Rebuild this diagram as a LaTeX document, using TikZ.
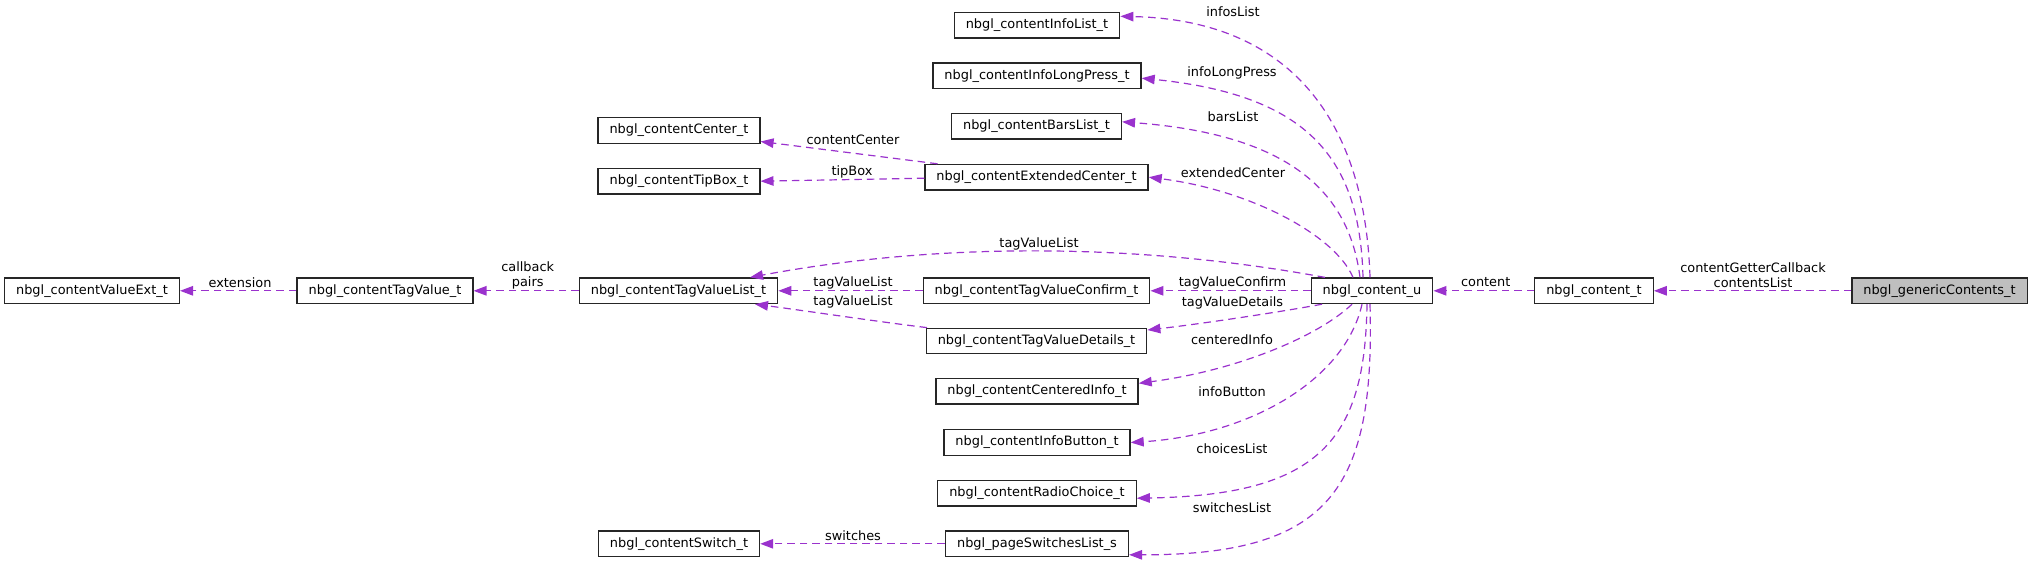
\documentclass[tikz,border=0pt]{standalone}
\usepackage{fontspec}
\setmainfont{DejaVu Sans}
\usepackage{tikz}
\usetikzlibrary{arrows.meta, positioning, calc}
\definecolor{LinkPurple}{HTML}{9A32CD}
\definecolor{BoxGray}{HTML}{BFBFBF}

\begin{document}
\begin{tikzpicture}[
        x=1pt, y=-1pt,
        font=\fontsize{12.9}{14.5}\selectfont,
        cls/.style={draw=black!85, line width=1.3pt, fill=white, minimum height=25.5pt, inner xsep=11.5pt, inner ysep=0pt},
        root/.style={cls, fill=BoxGray},
        link/.style={-{Triangle[length=13pt, width=9.5pt]}, LinkPurple, line width=1.2pt, dash pattern=on 7.5pt off 5pt},
        lbl/.style={align=center, inner sep=0pt},
      ]
        \useasboundingbox (0,0) rectangle (2032,563);
        % ---- member types (column of content_u) ----
        \node[cls] (cinfolist)  at (1037,25.3)   {nbgl\_contentInfoList\_t};
        \node[cls] (clongpress) at (1037,75.7)   {nbgl\_contentInfoLongPress\_t};
        \node[cls] (cbars)      at (1036.5,126.3) {nbgl\_contentBarsList\_t};
        \node[cls] (cextcenter) at (1036.5,177.2) {nbgl\_contentExtendedCenter\_t};
        \node[cls] (cconfirm)   at (1036.5,290.8) {nbgl\_contentTagValueConfirm\_t};
        \node[cls] (cdetails)   at (1036.5,341)   {nbgl\_contentTagValueDetails\_t};
        \node[cls] (ccentered)  at (1037,391.3)  {nbgl\_contentCenteredInfo\_t};
        \node[cls] (cinfobtn)   at (1037,442.5)  {nbgl\_contentInfoButton\_t};
        \node[cls] (cradio)     at (1037,493.2)  {nbgl\_contentRadioChoice\_t};
        \node[cls] (pswitches)  at (1037,543.8)  {nbgl\_pageSwitchesList\_s};
        % ---- second level ----
        \node[cls] (ccenter)    at (679,130.5)   {nbgl\_contentCenter\_t};
        \node[cls] (ctipbox)    at (679,181.2)   {nbgl\_contentTipBox\_t};
        \node[cls] (ctaglist)   at (678.5,290.8) {nbgl\_contentTagValueList\_t};
        \node[cls] (cswitch)    at (679,543.8)   {nbgl\_contentSwitch\_t};
        \node[cls] (ctagvalue)  at (385,290.8)   {nbgl\_contentTagValue\_t};
        \node[cls] (cvalueext)  at (92,290.8)    {nbgl\_contentValueExt\_t};
        % ---- main chain ----
        \node[cls] (cunion)     at (1372,290.8)  {nbgl\_content\_u};
        \node[cls] (ctype)      at (1594,290.8)  {nbgl\_content\_t};
        \node[root] (generic)   at (1939.5,290.8) {nbgl\_genericContents\_t};
        % ---- straight links ----
        \draw[link] (generic.west) -- (ctype.east);
        \draw[link] (ctype.west) -- (cunion.east);
        \draw[link] (cunion.west) -- (cconfirm.east);
        \draw[link] (cconfirm.west) -- (ctaglist.east);
        \draw[link] (ctaglist.west) -- (ctagvalue.east);
        \draw[link] (ctagvalue.west) -- (cvalueext.east);
        \draw[link] (pswitches.west) -- (cswitch.east);
        \draw[link] ([yshift=-1pt]cextcenter.west) -- ([yshift=0pt]ctipbox.east);
        \draw[link] ([xshift=-99pt]cextcenter.north) -- ([yshift=-11pt]ccenter.east);
        % ---- fan above content_u ----
        \draw[link] ([xshift=-2pt]cunion.north) .. controls (1365,120) and (1290,20) .. ([yshift=9pt]cinfolist.east);
        \draw[link] ([xshift=-9pt]cunion.north) .. controls (1360,160) and (1310,95) .. ([yshift=-2.5pt]clongpress.east);
        \draw[link] ([xshift=-12pt]cunion.north) .. controls (1350,200) and (1300,135) .. ([yshift=4.5pt]cbars.east);
        \draw[link] ([xshift=-19pt]cunion.north) .. controls (1335,235) and (1250,190) .. (cextcenter.east);
        \draw[link] ([xshift=-47pt]cunion.north) .. controls (1150,245) and (950,240) .. ([xshift=71.5pt]ctaglist.north);
        % ---- fan below content_u ----
        \draw[link] ([xshift=-50pt]cunion.south) .. controls (1280,312) and (1200,324) .. ([yshift=11pt]cdetails.east);
        \draw[link] ([xshift=-20pt]cunion.south) .. controls (1320,335) and (1240,370) .. ([yshift=8pt]ccentered.east);
        \draw[link] ([xshift=-10pt]cunion.south) .. controls (1345,380) and (1250,435) .. (cinfobtn.east);
        \draw[link] ([xshift=-5pt]cunion.south) .. controls (1365,440) and (1320,495) .. ([yshift=-5pt]cradio.east);
        \draw[link] ([xshift=-2pt]cunion.south) .. controls (1375,490) and (1330,555) .. ([yshift=-11pt]pswitches.east);
        \draw[link] ([xshift=-109.5pt]cdetails.north) .. controls (880,322) and (800,310) .. ([xshift=76.5pt]ctaglist.south);
        % ---- edge labels ----
        \node[lbl] (lInfos)    at (1233,11.7)  {infosList};
        \node[lbl] (lLong)     at (1232,72.7)  {infoLongPress};
        \node[lbl] (lBars)     at (1233,116.7) {barsList};
        \node[lbl] (lExt)      at (1233,172.7) {extendedCenter};
        \node[lbl] (lCenter)   at (853,140)    {contentCenter};
        \node[lbl] (lTip)      at (852,172.3)  {tipBox};
        \node[lbl] (lTagTop)   at (1039,243.5) {tagValueList};
        \node[lbl] (lTagMid)   at (853,282.7)  {tagValueList};
        \node[lbl] (lTagLow)   at (853,302.3)  {tagValueList};
        \node[lbl] (lConfirm)  at (1232.5,282.7) {tagValueConfirm};
        \node[lbl] (lDetails)  at (1232.5,302.5) {tagValueDetails};
        \node[lbl] (lCentered) at (1232,339.5) {centeredInfo};
        \node[lbl] (lBtn)      at (1232,391.7) {infoButton};
        \node[lbl] (lChoices)  at (1232,448.3) {choicesList};
        \node[lbl] (lSwList)   at (1232,507.7) {switchesList};
        \node[lbl] (lSwitches) at (853,535.3)  {switches};
        \node[lbl] (lPairs)    at (527.7,275.5) {callback\\pairs};
        \node[lbl] (lExtn)     at (240,282.7)  {extension};
        \node[lbl] (lContent)  at (1485.7,282.3) {content};
        \node[lbl] (lGetter)   at (1753,275) {contentGetterCallback\\contentsList};
      \end{tikzpicture}
\end{document}
